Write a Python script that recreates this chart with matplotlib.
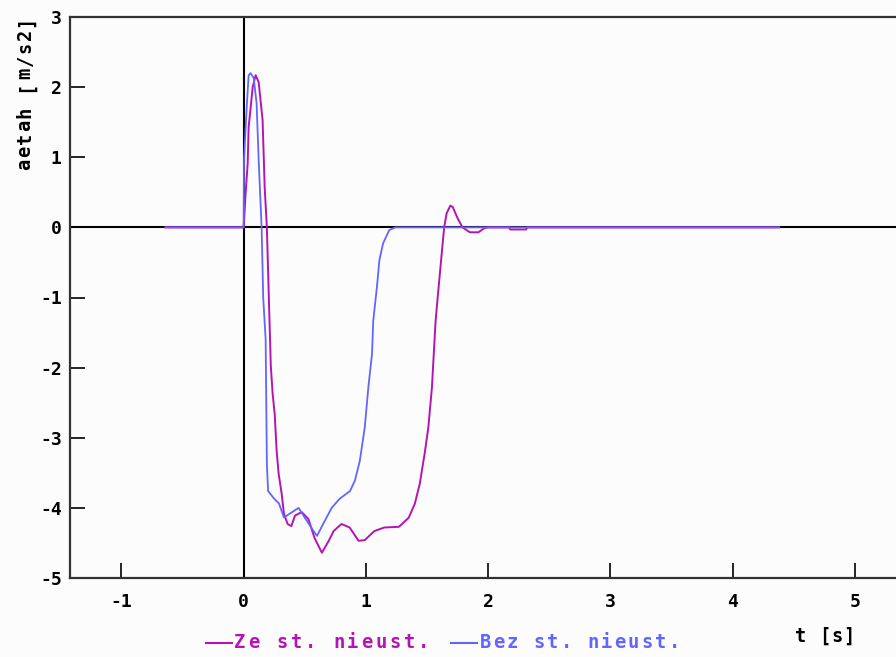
import matplotlib
matplotlib.use('Agg')
import matplotlib.pyplot as plt
from matplotlib.lines import Line2D

plt.rcParams['axes.unicode_minus'] = False

# Ze st. nieust. (magenta)
t_ze = [-0.64, 0.0, 0.016, 0.033, 0.041, 0.074, 0.098, 0.123, 0.155, 0.172, 0.19,
        0.205, 0.222, 0.237, 0.254, 0.27, 0.286, 0.311, 0.33, 0.36, 0.39, 0.42,
        0.475, 0.53, 0.58, 0.64, 0.696, 0.736, 0.80, 0.867, 0.94, 0.99, 1.07,
        1.15, 1.27, 1.35, 1.40, 1.44, 1.48, 1.51, 1.54, 1.555, 1.57, 1.59, 1.62,
        1.64, 1.66, 1.69, 1.71, 1.75, 1.79, 1.85, 1.92, 1.97, 2.0, 2.17, 2.18,
        2.31, 2.32, 4.38]
a_ze = [0.0, 0.0, 0.48, 0.91, 1.43, 2.0, 2.17, 2.07, 1.53, 0.57, 0.0,
        -0.93, -1.97, -2.37, -2.66, -3.19, -3.51, -3.8, -4.09, -4.23, -4.26, -4.11,
        -4.06, -4.16, -4.43, -4.64, -4.47, -4.33, -4.23, -4.28, -4.47, -4.46, -4.33,
        -4.28, -4.27, -4.14, -3.94, -3.66, -3.23, -2.86, -2.28, -1.8, -1.33, -0.94, -0.37,
        0.0, 0.2, 0.31, 0.29, 0.13, 0.0, -0.07, -0.07, -0.01, 0.0, 0.0, -0.03,
        -0.03, 0.0, 0.0]

# Bez st. nieust. (blue)
t_bez = [-0.64, 0.0, 0.003, 0.025, 0.041, 0.057, 0.082, 0.106, 0.123, 0.147, 0.16,
         0.18, 0.19, 0.2, 0.25, 0.29, 0.33, 0.37, 0.45, 0.5, 0.56, 0.60, 0.65,
         0.72, 0.785, 0.87, 0.91, 0.95, 0.99, 1.02, 1.05, 1.06, 1.09, 1.11, 1.14,
         1.19, 1.24, 4.38]
a_bez = [0.0, 0.0, 0.96, 1.71, 2.17, 2.2, 2.13, 1.77, 0.96, 0.0, -1.0,
         -1.6, -3.37, -3.76, -3.87, -3.94, -4.14, -4.09, -4.0, -4.14, -4.3, -4.4, -4.23,
         -4.0, -3.87, -3.76, -3.61, -3.33, -2.86, -2.28, -1.8, -1.33, -0.85, -0.47, -0.23,
         -0.04, 0.0, 0.0]

xticks = [-1, 0, 1, 2, 3, 4, 5]
yticks = [-5, -4, -3, -2, -1, 0, 1, 2, 3]
labels = ['Ze st. nieust.', 'Bez st. nieust.']

c_ze = '#B414B4'
c_bez = '#6464FF'
font = 'DejaVu Sans Mono'
W, H = 896, 657

fig = plt.figure(figsize=(8.96, 6.57), dpi=100, facecolor='#FCFCFC')
ax = fig.add_axes([70/W, 1-578/H, 1-70/W, (578-17)/H])
ax.set_facecolor('#FCFCFC')

ax.axhline(0, color='black', lw=1.5, zorder=1)
ax.axvline(0, color='black', lw=1.5, zorder=1)
ax.plot(t_ze, a_ze, color=c_ze, lw=1.4, zorder=2)
ax.plot(t_bez, a_bez, color=c_bez, lw=1.3, zorder=3)

ax.set_xlim(-1.42, 5.335)
ax.set_ylim(-5, 3)
ax.set_xticks(xticks)
ax.set_yticks(yticks)
ax.spines['right'].set_visible(False)
for s in ['left', 'bottom', 'top']:
    ax.spines[s].set_linewidth(1.6)
    ax.spines[s].set_color('#333333')
ax.tick_params(axis='x', direction='in', length=11, width=1.2, pad=11)
ax.tick_params(axis='y', direction='in', length=11, width=1.2, pad=6)
for lab in ax.get_xticklabels() + ax.get_yticklabels():
    lab.set_fontfamily(font)
    lab.set_fontweight('bold')
    lab.set_fontsize(13)


# old bitmap font has wide character cells, so lay chars out one by one
def spaced(x, y, s, step, color='black', vertical=False, size=13.5):
    for i, ch in enumerate(s):
        if vertical:
            fig.text(x/W, 1-(y - i*step)/H, ch, rotation=90, ha='center', va='center',
                     family=font, fontweight='bold', fontsize=size, color=color)
        else:
            fig.text((x + i*step)/W, 1-y/H, ch, ha='center', va='center',
                     family=font, fontweight='bold', fontsize=size, color=color)


spaced(25, 164, 'aetah [m/s2]', 13, vertical=True)
spaced(801, 636, 't [s]', 12)

fig.add_artist(Line2D([206/W, 232/W], [1-643/H, 1-643/H], color=c_ze, lw=1.5))
spaced(240, 643, labels[0], 14.1, color=c_ze)
fig.add_artist(Line2D([451/W, 477/W], [1-643/H, 1-643/H], color=c_bez, lw=1.5))
spaced(485, 643, labels[1], 13.5, color=c_bez)

fig.savefig('out.png', dpi=100, facecolor=fig.get_facecolor())
